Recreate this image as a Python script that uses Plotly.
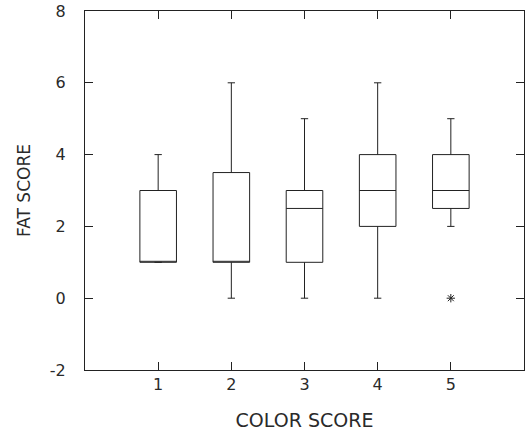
import plotly.graph_objects as go

categories = [1, 2, 3, 4, 5]
q1 = [1, 1, 1, 2, 2.5]
median = [1, 1, 2.5, 3, 3]
q3 = [3, 3.5, 3, 4, 4]
lower = [1, 0, 0, 0, 2]
upper = [4, 6, 5, 6, 5]
outlier_x = [5]
outlier_y = [0]
x_ticks = [1, 2, 3, 4, 5]
y_ticks = [-2, 0, 2, 4, 6, 8]

line_color = "#222222"
text_color = "#2a2a2a"
font_family = "DejaVu Sans, Arial, sans-serif"

fig = go.Figure()
fig.add_trace(go.Box(
    x=categories, q1=q1, median=median, q3=q3,
    lowerfence=lower, upperfence=upper,
    boxpoints=False, width=0.5, whiskerwidth=0.2,
    fillcolor="white", line=dict(color=line_color, width=1),
    showlegend=False,
))
fig.add_trace(go.Scatter(
    x=outlier_x, y=outlier_y, mode="markers",
    marker=dict(symbol="asterisk-open", size=7, color=line_color,
                line=dict(color=line_color, width=1)),
    showlegend=False,
))

axis_common = dict(
    showline=True, linecolor=line_color, linewidth=1, mirror="ticks",
    ticks="inside", ticklen=8, tickcolor=line_color, tickwidth=1,
    showgrid=False, zeroline=False, automargin=False,
    tickfont=dict(family=font_family, size=16, color=text_color),
)

fig.update_layout(
    width=532, height=431,
    margin=dict(l=85, r=8, t=11, b=61),
    paper_bgcolor="white", plot_bgcolor="white",
    xaxis=dict(range=[0, 6], tickvals=x_ticks, ticktext=[str(v) for v in x_ticks],
               ticklabelstandoff=0,
               title=dict(text="COLOR SCORE", font=dict(family=font_family, size=19, color=text_color), standoff=20),
               **axis_common),
    yaxis=dict(range=[-2, 8], tickvals=y_ticks, ticktext=[str(v) for v in y_ticks],
               ticklabelstandoff=15,
               title=dict(text="FAT SCORE", font=dict(family=font_family, size=17, color=text_color), standoff=14),
               **axis_common),
)

fig.write_html("out.html")
